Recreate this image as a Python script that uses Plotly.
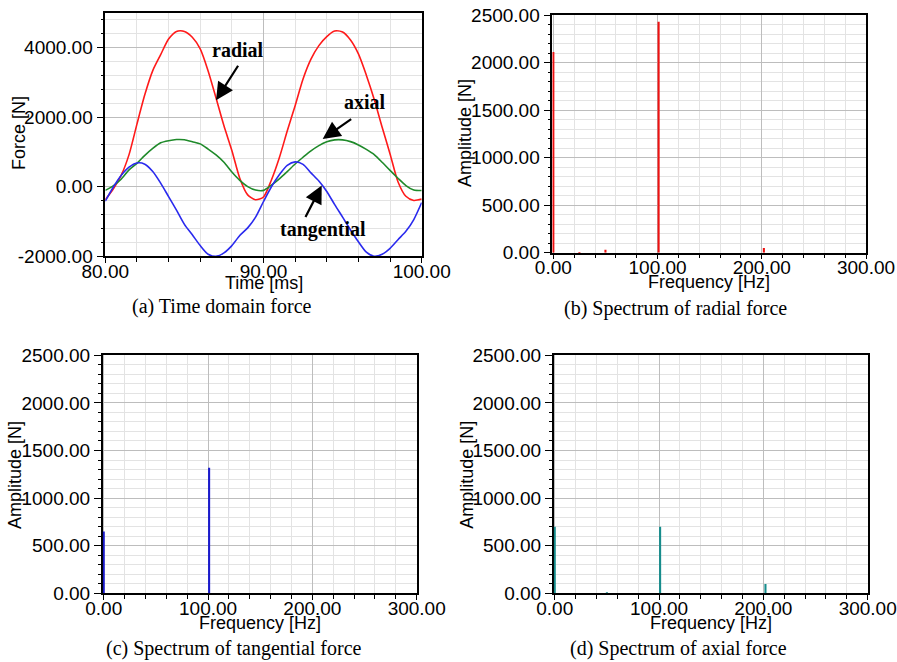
import plotly.graph_objects as go

# ---------------- data ----------------
time_ms = [80.0, 80.5, 81.0, 81.5, 82.0, 82.5, 83.0, 83.5, 84.0, 84.5,
           85.0, 85.5, 86.0, 86.5, 87.0, 87.5, 88.0, 88.5, 89.0, 89.5,
           90.0, 90.5, 91.0, 91.5, 92.0, 92.5, 93.0, 93.5, 94.0, 94.5,
           95.0, 95.5, 96.0, 96.5, 97.0, 97.5, 98.0, 98.5, 99.0, 99.5,
           100.0]

radial_force = [-380, -70, 320, 920, 1800, 2650, 3340, 3800, 4250, 4470,
                4470, 4300, 3965, 3330, 2550, 1750, 1040, 240, -240, -380,
                -300, 190, 830, 1600, 2330, 3100, 3670, 4060, 4320, 4480,
                4450, 4220, 3820, 3210, 2510, 1710, 940, 140, -280, -400,
                -360]

tangential_force = [-420, -20, 320, 560, 680, 645, 435, 100, -290, -680,
                    -1090, -1390, -1700, -1950, -2010, -1910, -1700, -1410, -1190, -880,
                    -430, -5, 340, 610, 710, 640, 395, 160, -140, -520,
                    -880, -1250, -1590, -1890, -2005, -1950, -1780, -1530, -1290, -950,
                    -460]

axial_force = [-110, 20, 210, 480, 670, 900, 1100, 1260, 1320, 1354,
               1348, 1290, 1230, 1080, 910, 700, 420, 180, 0, -100,
               -110, 40, 220, 430, 650, 845, 1030, 1180, 1290, 1345,
               1345, 1295, 1200, 1070, 920, 700, 465, 240, 30, -100,
               -115]

radial_freq = [0, 25, 50, 101, 202]
radial_amp = [2110, 5, 30, 2430, 50]

tangential_freq = [0, 101]
tangential_amp = [650, 1320]

axial_freq = [0, 50, 101, 202]
axial_amp = [700, 8, 700, 98]

time_ticks = [80, 90, 100]
force_ticks = [-2000, 0, 2000, 4000]
freq_ticks = [0, 100, 200, 300]
amp_ticks = [0, 500, 1000, 1500, 2000, 2500]

captions = ["(a) Time domain force", "(b) Spectrum of radial force",
            "(c) Spectrum of tangential force", "(d) Spectrum of axial force"]

# ---------------- layout helpers ----------------
W, H = 897, 662


def px(x):
    return x / W


def py(y):
    return 1 - y / H


SANS = "Liberation Sans, Arial, sans-serif"
SERIF = "Liberation Serif, Times New Roman, serif"
MAJOR_GRID = "#bdbdbd"
MINOR_GRID = "#e3e3e3"
TICK_SIZE = 19

fig = go.Figure()

# time domain curves
curve_line = dict(width=1.6, shape="spline", smoothing=0.7)
fig.add_trace(go.Scatter(x=time_ms, y=radial_force, mode="lines", line=dict(color="#ff1a1a", **curve_line),
                         xaxis="x", yaxis="y", showlegend=False))
fig.add_trace(go.Scatter(x=time_ms, y=axial_force, mode="lines", line=dict(color="#1f8a2a", **curve_line),
                         xaxis="x", yaxis="y", showlegend=False))
fig.add_trace(go.Scatter(x=time_ms, y=tangential_force, mode="lines", line=dict(color="#2a2aee", **curve_line),
                         xaxis="x", yaxis="y", showlegend=False))

# spectra
fig.add_trace(go.Bar(x=radial_freq, y=radial_amp, width=2.0, marker=dict(color="#ee1111", line=dict(width=0)),
                     xaxis="x2", yaxis="y2", showlegend=False))
fig.add_trace(go.Bar(x=tangential_freq, y=tangential_amp, width=2.0, marker=dict(color="#1a1acc", line=dict(width=0)),
                     xaxis="x3", yaxis="y3", showlegend=False))
fig.add_trace(go.Bar(x=axial_freq, y=axial_amp, width=2.0, marker=dict(color="#168c8c", line=dict(width=0)),
                     xaxis="x4", yaxis="y4", showlegend=False))


def xaxis(dom, rng, ticks, minor_dtick, anchor):
    return dict(domain=dom, range=rng, anchor=anchor, automargin=False,
                tickmode="array", tickvals=ticks, ticktext=[f"{t:.2f}" for t in ticks],
                showline=True, linecolor="black", linewidth=1.5, mirror=True,
                ticks="outside", ticklen=5, tickcolor="black", tickwidth=1,
                ticklabelstandoff=-8,
                tickfont=dict(family=SANS, size=TICK_SIZE, color="black"),
                showgrid=True, gridcolor=MAJOR_GRID, gridwidth=1, zeroline=False,
                minor=dict(dtick=minor_dtick, tick0=0, ticks="outside", ticklen=4, tickcolor="black",
                           showgrid=True, gridcolor=MINOR_GRID, gridwidth=1),
                layer="below traces", fixedrange=True)


def yaxis(dom, rng, ticks, minor_dtick, anchor):
    return dict(domain=dom, range=rng, anchor=anchor, automargin=False,
                tickmode="array", tickvals=ticks, ticktext=[f"{t:.2f}" for t in ticks],
                showline=True, linecolor="black", linewidth=1.5, mirror=True,
                ticks="outside", ticklen=7, tickcolor="black", tickwidth=1,
                tickfont=dict(family=SANS, size=TICK_SIZE, color="black"),
                showgrid=True, gridcolor=MAJOR_GRID, gridwidth=1, zeroline=False,
                minor=dict(dtick=minor_dtick, tick0=0, ticks="outside", ticklen=3, tickcolor="black",
                           showgrid=True, gridcolor=MINOR_GRID, gridwidth=1),
                layer="below traces", fixedrange=True)


# plot rectangles (pixels): left, right, top, bottom
boxes = {
    "a": (105.3, 421.7, 13.0, 256.0),
    "b": (552.3, 866.0, 15.0, 252.7),
    "c": (102.7, 416.7, 355.3, 593.3),
    "d": (553.7, 867.7, 355.3, 593.3),
}


def xdom(k):
    l, r, t, b = boxes[k]
    return [px(l), px(r)]


def ydom(k):
    l, r, t, b = boxes[k]
    return [py(b), py(t)]


fig.update_layout(
    width=W, height=H, margin=dict(l=0, r=0, t=0, b=0, autoexpand=False),
    paper_bgcolor="white", plot_bgcolor="white", showlegend=False,
    barmode="overlay",
    xaxis=xaxis(xdom("a"), [80, 100], time_ticks, 2, "y"),
    yaxis=yaxis(ydom("a"), [-2000, 5000], force_ticks, 400, "x"),
    xaxis2=xaxis(xdom("b"), [-1, 300], freq_ticks, 20, "y2"),
    yaxis2=yaxis(ydom("b"), [0, 2500], amp_ticks, 100, "x2"),
    xaxis3=xaxis(xdom("c"), [-1, 300], freq_ticks, 20, "y3"),
    yaxis3=yaxis(ydom("c"), [0, 2500], amp_ticks, 100, "x3"),
    xaxis4=xaxis(xdom("d"), [-1, 300], freq_ticks, 20, "y4"),
    yaxis4=yaxis(ydom("d"), [0, 2500], amp_ticks, 100, "x4"),
)

ann = []

# axis titles
x_titles = [("Time [ms]", 264.3, 283.0), ("Frequency [Hz]", 709.0, 281.7),
            ("Frequency [Hz]", 259.7, 622.7), ("Frequency [Hz]", 710.7, 622.7)]
for text, x, y in x_titles:
    ann.append(dict(text=text, x=px(x), y=py(y), xref="paper", yref="paper", showarrow=False,
                    xanchor="center", yanchor="middle", font=dict(family=SANS, size=18, color="black")))

y_titles = [("Force [N]", 19.0, 133.0), ("Amplitude [N]", 465.0, 133.0),
            ("Amplitude [N]", 15.0, 475.0), ("Amplitude [N]", 466.7, 475.0)]
for text, x, y in y_titles:
    ann.append(dict(text=text, x=px(x), y=py(y), xref="paper", yref="paper", showarrow=False,
                    textangle=-90, xanchor="center", yanchor="middle",
                    font=dict(family=SANS, size=18, color="black")))

# captions
cap_pos = [(221.7, 306.7), (675.5, 308.0), (234.5, 648.3), (678.8, 648.3)]
for text, (x, y) in zip(captions, cap_pos):
    ann.append(dict(text=text, x=px(x), y=py(y), xref="paper", yref="paper", showarrow=False,
                    xanchor="center", yanchor="middle", font=dict(family=SERIF, size=20, color="black")))

# curve labels with arrows in the time-domain panel
labels = [("radial", 88.37, 3934), ("axial", 96.42, 2428), ("tangential", 93.74, -1228)]
for text, x, y in labels:
    ann.append(dict(text=text, x=x, y=y, xref="x", yref="y", showarrow=False,
                    xanchor="center", yanchor="middle",
                    font=dict(family=SERIF, size=20, color="black", weight="bold")))

arrows = [(87.0, 2486, 23, -36), (93.74, 1371, 30, -21), (93.68, 29, -17, 33)]
for x, y, ax, ay in arrows:
    ann.append(dict(text="", x=x, y=y, xref="x", yref="y", ax=ax, ay=ay, showarrow=True,
                    arrowhead=2, arrowsize=1.6, arrowwidth=2.2, arrowcolor="black"))

fig.update_layout(annotations=ann)

fig.write_html("out.html")
